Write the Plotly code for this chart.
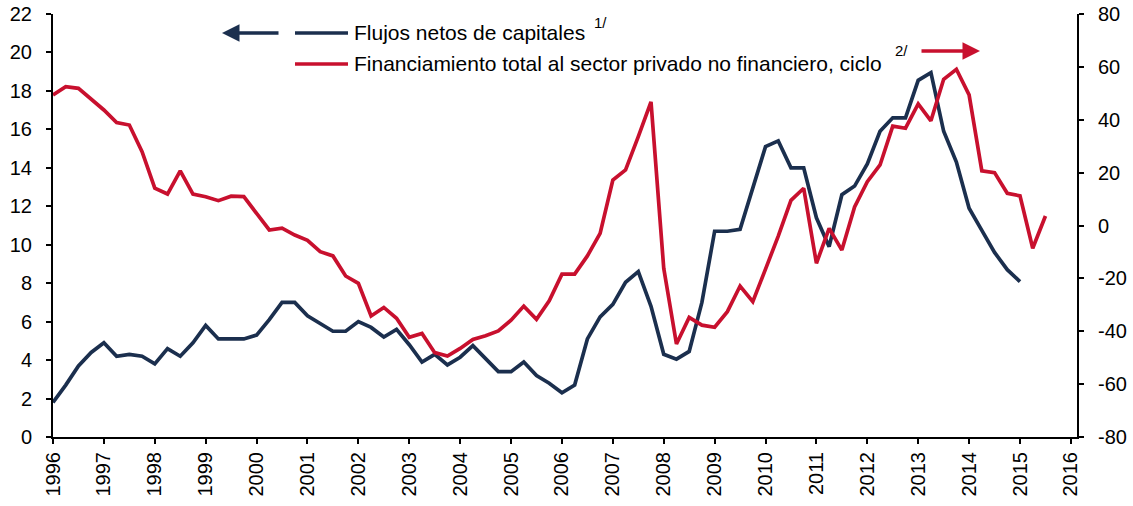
import plotly.graph_objects as go

# ---------------- data (quarterly, starting 1996 Q1) ----------------
START_YEAR = 1996
FLUJOS = [
    1.8, 2.7, 3.7, 4.4,
    4.9, 4.2, 4.3, 4.2,
    3.8, 4.6, 4.2, 4.9,
    5.8, 5.1, 5.1, 5.1,
    5.3, 6.1, 7.0, 7.0,
    6.3, 5.9, 5.5, 5.5,
    6.0, 5.7, 5.2, 5.6,
    4.8, 3.9, 4.3, 3.75,
    4.15, 4.75, 4.1, 3.4,
    3.4, 3.9, 3.2, 2.8,
    2.3, 2.7, 5.1, 6.25,
    6.9, 8.05, 8.6, 6.8,
    4.3, 4.05, 4.45, 7.0,
    10.7, 10.7, 10.8, 13.0,
    15.1, 15.4, 14.0, 14.0,
    11.4, 9.9, 12.6, 13.05,
    14.2, 15.9, 16.6, 16.6,
    18.55, 18.95, 15.9, 14.3,
    11.9, 10.75, 9.6, 8.7,
    8.08,
]
FINANCIAMIENTO = [
    49.4, 52.5, 51.9, 47.7,
    43.7, 38.9, 38.0, 27.9,
    14.1, 11.9, 20.7, 11.9,
    10.9, 9.4, 11.1, 10.9,
    4.6, -1.7, -1.0, -3.6,
    -5.6, -9.9, -11.5, -19.1,
    -21.9, -34.2, -31.0, -35.1,
    -42.3, -40.8, -48.1, -49.4,
    -46.5, -43.1, -41.7, -39.9,
    -35.8, -30.5, -35.5, -28.5,
    -18.4, -18.4, -11.5, -3.0,
    17.2, 21.0, 33.6, 46.8,
    -16.2, -44.8, -34.8, -37.7,
    -38.5, -32.6, -22.9, -28.8,
    -16.5, -4.0, 9.5, 14.1,
    -14.3, -1.1, -9.3, 7.0,
    16.6, 22.9, 37.6, 36.8,
    46.0, 39.6, 55.3, 59.1,
    49.4, 20.7, 20.0, 12.2,
    11.2, -8.6, 3.6,
]
YEARS = list(range(1996, 2017))
YEAR_LABELS = [str(y) for y in YEARS]
LEFT_TICKS = list(range(0, 23, 2))
RIGHT_TICKS = list(range(-80, 81, 20))
RIGHT_LABELS = [str(v) for v in RIGHT_TICKS]

NAME_FLUJOS = "Flujos netos de capitales"
NAME_FIN = "Financiamiento total al sector privado no financiero, ciclo"

x_flujos = [START_YEAR + i / 4 for i in range(len(FLUJOS))]
x_fin = [START_YEAR + i / 4 for i in range(len(FINANCIAMIENTO))]

NAVY = "#1B2F4E"
RED = "#C8102E"
FONT = "Arial, Liberation Sans, sans-serif"

W, H = 1133, 506
ML, MR, MT, MB = 53, 56, 14, 69
PW, PH = W - ML - MR, H - MT - MB


def px(xp):
    return (xp - ML) / PW


def py(yp):
    return (H - MB - yp) / PH


fig = go.Figure()
fig.add_trace(go.Scatter(x=x_flujos, y=FLUJOS, mode="lines", name=NAME_FLUJOS,
                         line=dict(color=NAVY, width=3.7), yaxis="y"))
fig.add_trace(go.Scatter(x=x_fin, y=FINANCIAMIENTO, mode="lines", name=NAME_FIN,
                         line=dict(color=RED, width=3.7), yaxis="y2"))

axis_common = dict(showgrid=False, zeroline=False, showline=True, linecolor="black",
                   linewidth=2, ticks="outside", ticklen=5, tickwidth=2, tickcolor="black",
                   automargin=False,
                   tickfont=dict(family=FONT, size=20, color="black"))

fig.update_layout(
    width=W, height=H,
    margin=dict(l=ML, r=MR, t=MT, b=MB, autoexpand=False),
    paper_bgcolor="white", plot_bgcolor="white",
    showlegend=False,
    xaxis=dict(range=[1996, 2016.12], tickmode="array", tickvals=YEARS, ticktext=YEAR_LABELS,
               tickangle=-90, ticklabelstandoff=0, **axis_common),
    yaxis=dict(range=[0, 22], tickmode="array", tickvals=LEFT_TICKS, ticklabelstandoff=10,
               **axis_common),
    yaxis2=dict(range=[-80, 80], tickmode="array", tickvals=RIGHT_TICKS, ticktext=RIGHT_LABELS,
                overlaying="y", side="right", ticklabelstandoff=10, **axis_common),
)

# ---------------- custom legend ----------------
row1, row2 = 33, 64
shapes = [
    dict(type="line", xref="paper", yref="paper", x0=px(295), x1=px(348), y0=py(row1), y1=py(row1),
         line=dict(color=NAVY, width=3.7)),
    dict(type="line", xref="paper", yref="paper", x0=px(295), x1=px(348), y0=py(row2), y1=py(row2),
         line=dict(color=RED, width=3.7)),
]
fig.update_layout(shapes=shapes)

annotations = [
    # left arrow (blue, left axis)
    dict(xref="paper", yref="paper", x=px(222), y=py(row1), ax=58, ay=0, text="",
         showarrow=True, arrowhead=2, arrowsize=1, arrowwidth=3.5, arrowcolor=NAVY),
    # right arrow (red, right axis)
    dict(xref="paper", yref="paper", x=px(980), y=py(51), ax=-60, ay=0, text="",
         showarrow=True, arrowhead=2, arrowsize=1, arrowwidth=3.5, arrowcolor=RED),
    dict(xref="paper", yref="paper", x=px(352), y=py(row1), xanchor="left", yanchor="middle",
         text=NAME_FLUJOS, showarrow=False, font=dict(family=FONT, size=21, color="black")),
    dict(xref="paper", yref="paper", x=px(592), y=py(22), xanchor="left", yanchor="middle",
         text="1/", showarrow=False, font=dict(family=FONT, size=15, color="black")),
    dict(xref="paper", yref="paper", x=px(352), y=py(row2), xanchor="left", yanchor="middle",
         text=NAME_FIN, showarrow=False, font=dict(family=FONT, size=21, color="black")),
    dict(xref="paper", yref="paper", x=px(893), y=py(50), xanchor="left", yanchor="middle",
         text="2/", showarrow=False, font=dict(family=FONT, size=15, color="black")),
]
fig.update_layout(annotations=annotations)

fig.write_html("out.html", config={"displayModeBar": False},
               post_script="document.body.style.margin='0';")
